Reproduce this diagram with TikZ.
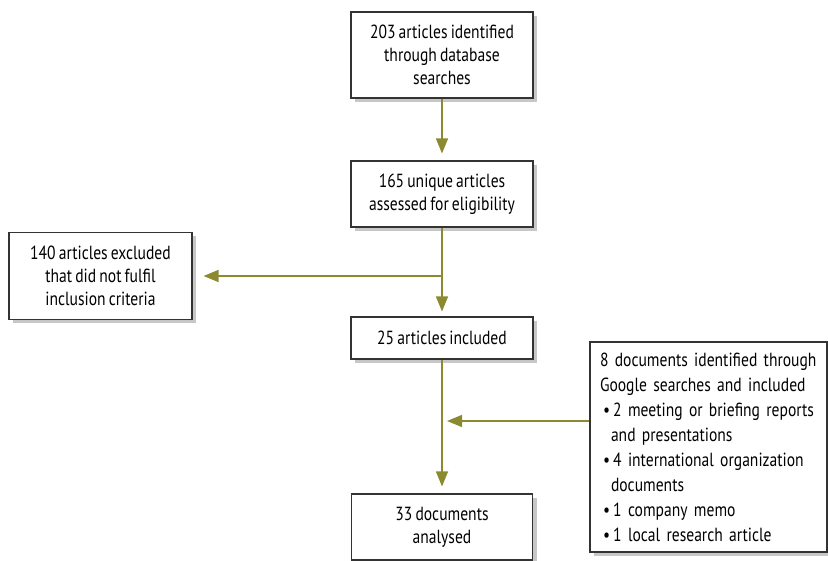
\documentclass[tikz,border=0pt]{standalone}
\usepackage{fontspec}
\setmainfont{PT Sans}[FakeStretch=0.82, WordSpace=0.75]
\usetikzlibrary{arrows.meta,shadows}

\definecolor{olivearrow}{RGB}{140,138,48}
\tikzset{
    stepbox/.style={draw=black!80, line width=1.1pt, fill=white, align=center,
        inner sep=0pt, font=\fontsize{19}{23}\selectfont,
        drop shadow={shadow xshift=4pt, shadow yshift=-4pt, fill=black!22, opacity=1}},
    flow/.style={draw=olivearrow, line width=1.4pt,
        -{Triangle[width=12pt,length=15pt]}}
}

\begin{document}
\begin{tikzpicture}[x=1pt, y=-1pt]
    \useasboundingbox (0,0) rectangle (828,561);
    \node[stepbox, minimum width=182pt, minimum height=86pt] (found) at (442,55)
        {203 articles identified\\through database\\searches};
    \node[stepbox, minimum width=182pt, minimum height=66pt] (unique) at (442,194)
        {165 unique articles\\assessed for eligibility};
    \node[stepbox, minimum width=183pt, minimum height=87pt] (excl) at (100.5,276)
        {140 articles excluded\\that did not fulfil\\inclusion criteria};
    \node[stepbox, minimum width=182pt, minimum height=42pt] (incl) at (442,338)
        {25 articles included};
    \node[stepbox, minimum width=181pt, minimum height=66pt] (anal) at (442,527)
        {33 documents\\analysed};
    \node[stepbox, text width=217pt, inner xsep=10pt, minimum height=210pt, align=left,
        font=\fontsize{19}{25}\selectfont] (google) at (708.5,447)
        {8 documents identified through\\
        Google searches and included\\
        \hspace{3pt}\textbullet\,2 meeting or briefing reports\\
        \hspace{11pt}and presentations\\
        \hspace{3pt}\textbullet\,4 international organization\\
        \hspace{11pt}documents\\
        \hspace{3pt}\textbullet\,1 company memo\\
        \hspace{3pt}\textbullet\,1 local research article};
    \coordinate (split) at (unique.south |- excl);
    \coordinate (merge) at (441,421);
    % main flow
    \draw[flow, shorten >=7pt] (found) -- (unique);
    \draw[flow, shorten >=5pt] (unique) -- (incl);
    \draw[flow, shorten >=11pt] (split) -- (excl.east);
    \draw[flow, shorten >=7pt] (incl) -- (anal);
    \draw[flow, shorten >=6pt] (google.west |- merge) -- (merge);
\end{tikzpicture}
\end{document}
